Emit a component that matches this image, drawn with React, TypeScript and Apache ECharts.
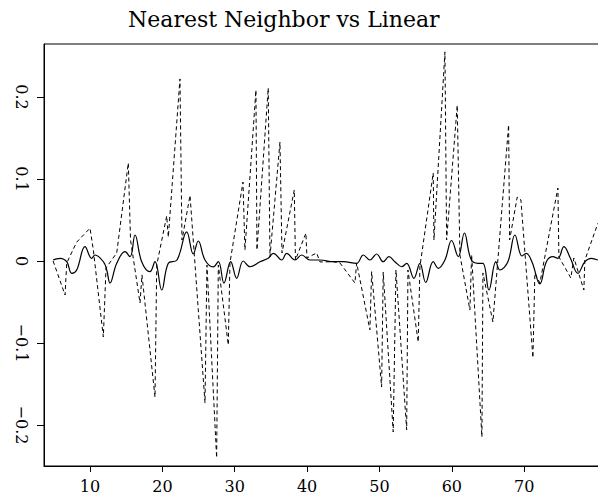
import React, { useEffect, useRef } from "react";
import * as echarts from "echarts";

const titleText = "Nearest Neighbor vs Linear";
const xTicks = [10, 20, 30, 40, 50, 60, 70];
const yTicks = [-0.2, -0.1, 0, 0.1, 0.2];

// Nearest neighbor (dashed) vertices
const nearestX = [
  4.9, 6.55, 6.78, 8.16, 10.0, 10.46, 11.84, 12.21, 13.69, 15.29, 15.6, 16.91, 17.18, 18.98, 19.22,
  20.6, 20.82, 22.43, 22.71, 23.82, 25.89, 26.16, 27.5, 27.73, 29.11, 29.34, 31.14, 31.41, 32.93,
  33.07, 34.63, 34.87, 36.25, 36.53, 38.23, 38.39, 39.84, 39.98, 41.32, 41.78, 43.57, 44.54, 46.61,
  46.85, 48.68, 48.92, 50.3, 50.52, 51.9, 52.28, 53.76, 53.94, 55.36, 55.59, 57.43, 57.53, 59.05,
  59.28, 60.75, 61.12, 62.5, 62.74, 64.16, 64.3, 65.68, 67.85, 67.99, 69.04, 69.55, 71.21, 71.48,
  72.17, 74.66, 74.8, 76.45, 76.87, 78.25, 78.39, 80.19,
];
const nearestY = [
  0.0, -0.0415, -0.0024, 0.023, 0.04, 0.0134, -0.0927, -0.0085, 0.0098, 0.1195, 0.0256, -0.0512,
  -0.017, -0.166, -0.005, 0.055, 0.029, 0.222, 0.0256, 0.08, -0.173, -0.005, -0.24, -0.005, -0.1024,
  -0.0024, 0.0963, 0.0134, 0.2085, 0.0134, 0.211, 0.005, 0.145, 0.0098, 0.0866, 0.0012, 0.034,
  0.0037, 0.0098, -0.0012, -0.0009, -0.0024, -0.0268, -0.0024, -0.084, -0.013, -0.1537, -0.0134,
  -0.2085, -0.011, -0.206, -0.011, -0.0988, -0.0073, 0.1073, 0.0256, 0.255, 0.0256, 0.19, 0.0073,
  -0.0598, 0.0073, -0.2146, -0.0146, -0.0744, 0.166, 0.0256, 0.078, 0.0744, -0.118, -0.0146, -0.0268,
  0.089, 0.0049, -0.0207, 0.0037, -0.0354, 0.0012, 0.046,
];

// Linear (solid) samples
const linearX = [
  4.9, 5.16, 5.86, 6.78, 7.47, 8.16, 9.31, 10.23, 10.69, 11.84, 12.31, 12.76, 13.69, 14.84, 15.53,
  16.22, 17.14, 18.29, 18.98, 19.91, 20.82, 22.02, 23.36, 24.27, 24.96, 25.89, 27.03, 27.73, 28.51,
  29.44, 30.27, 31.18, 32.11, 33.49, 34.63, 35.33, 36.49, 37.18, 38.32, 39.25, 40.39, 41.78, 43.61,
  45.0, 46.85, 47.76, 48.68, 49.61, 50.52, 51.31, 52.14, 53.07, 53.76, 54.76, 55.59, 56.39, 57.43,
  58.12, 59.05, 59.97, 60.89, 61.74, 62.64, 63.61, 64.3, 65.13, 66.09, 66.65, 67.75, 68.72, 69.69,
  70.28, 71.07, 72.17, 73.07, 73.97, 74.66, 75.49, 76.39, 77.42, 78.39, 79.26, 80.19,
];
const linearY = [
  0.0012, 0.002, 0.0033, -0.0009, -0.015, -0.011, 0.0174, 0.0033, 0.0073, -0.0009, -0.011, -0.027,
  -0.0028, 0.0113, 0.0052, 0.0317, -0.0009, -0.013, -0.0009, -0.0354, -0.0028, 0.0012, 0.0354,
  0.0085, 0.0244, 0.0012, -0.0073, -0.0009, -0.027, -0.0009, -0.0211, 0.0, -0.007, -0.0009, 0.0033,
  0.0094, 0.0012, 0.0094, 0.0012, 0.0073, 0.0012, 0.0012, -0.0009, -0.0009, -0.0028, 0.0073, 0.0012,
  0.0085, -0.0009, 0.0052, -0.0009, -0.007, -0.0028, -0.0211, -0.0028, -0.0262, -0.0009, -0.0089,
  0.0012, 0.025, 0.0052, 0.0341, 0.0024, -0.0028, -0.0028, -0.0354, -0.0009, -0.011, -0.0009, 0.0317,
  0.0061, 0.0094, -0.0009, -0.028, -0.0009, 0.0052, 0.0033, 0.0174, 0.0033, -0.015, -0.0009, 0.0033,
  0.0012,
];

const X_MIN = 3.64;
const X_MAX = 82;
const Y_MIN = -0.25;
const Y_MAX = 0.2646;

export default function App() {
  const ref = useRef<HTMLDivElement>(null);
  useEffect(() => {
    if (!ref.current) return;
    const chart = echarts.init(ref.current, undefined, { renderer: "svg" });
    const font = "'DejaVu Serif', 'Liberation Serif', serif";
    chart.setOption({
      animation: false,
      backgroundColor: "#fff",
      title: {
        text: titleText,
        left: 128,
        top: 8,
        padding: 0,
        textStyle: { fontFamily: font, fontSize: 22, fontWeight: "normal", color: "#000" },
      },
      grid: {
        left: 44,
        top: 44,
        bottom: 32,
        right: 0,
        show: true,
        borderColor: "#000",
        borderWidth: 1,
        containLabel: false,
      },
      xAxis: {
        type: "value",
        min: X_MIN,
        max: X_MAX,
        axisLine: { show: true, onZero: false, lineStyle: { color: "#000", width: 1 } },
        axisTick: { show: true, customValues: xTicks, length: 6, lineStyle: { color: "#000" } },
        axisLabel: {
          customValues: xTicks,
          color: "#000",
          fontFamily: font,
          fontSize: 16,
          margin: 12,
        },
        splitLine: { show: false },
      },
      yAxis: {
        type: "value",
        min: Y_MIN,
        max: Y_MAX,
        axisLine: { show: true, onZero: false, lineStyle: { color: "#000", width: 1 } },
        axisTick: { show: true, customValues: yTicks, length: 7, lineStyle: { color: "#000" } },
        axisLabel: {
          customValues: yTicks,
          color: "#000",
          fontFamily: font,
          fontSize: 16,
          rotate: -90,
          margin: 15,
          formatter: (v: number) => (v < 0 ? "\u2212" + String(Math.abs(v)) : String(v)),
        },
        splitLine: { show: false },
      },
      series: [
        {
          type: "line",
          name: "nearest",
          data: nearestX.map((x, i) => [x, nearestY[i]]),
          symbol: "none",
          lineStyle: { color: "#000", width: 1, type: [4, 3] },
        },
        {
          type: "line",
          name: "linear",
          data: linearX.map((x, i) => [x, linearY[i]]),
          symbol: "none",
          smooth: 0.4,
          lineStyle: { color: "#000", width: 1.2 },
        },
      ],
    });
    return () => chart.dispose();
  }, []);
  return (
    <div
      style={{
        position: "absolute",
        left: 0,
        top: 0,
        width: 598,
        height: 498,
        overflow: "hidden",
        background: "#fff",
      }}
    >
      <div ref={ref} style={{ width: 611, height: 498 }} />
    </div>
  );
}
